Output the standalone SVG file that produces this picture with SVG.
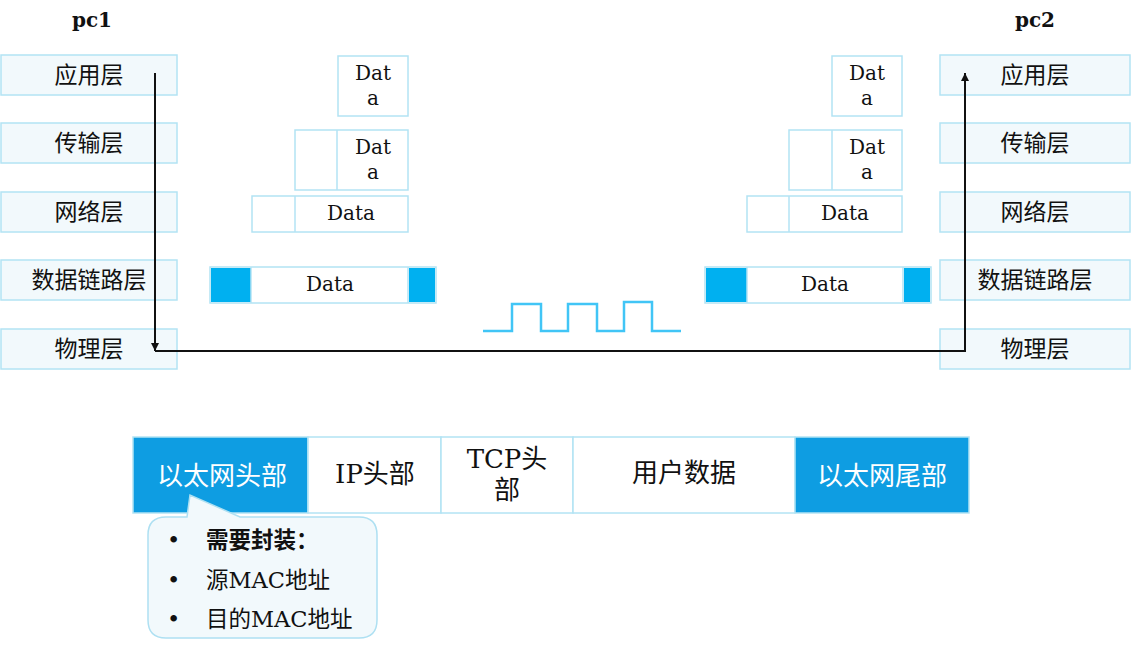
<svg xmlns="http://www.w3.org/2000/svg" width="1132" height="647" viewBox="0 0 1132 647">
<defs>
<style>
.layer{fill:#f2f9fc;stroke:#b3e3f4;stroke-width:1.5}
.pkt{fill:#ffffff;stroke:#b3e3f4;stroke-width:1.5}
.lt{font-family:"Noto Sans CJK SC","DejaVu Sans",sans-serif;font-size:23px;fill:#111;text-anchor:middle;dominant-baseline:central}
.dt{font-family:"DejaVu Serif","Noto Sans CJK SC",serif;font-size:20px;fill:#111;text-anchor:middle;dominant-baseline:central}
.pc{font-family:"DejaVu Serif",serif;font-size:20px;font-weight:bold;fill:#111;text-anchor:middle;dominant-baseline:central}
.bl{fill:#00b0f0}
.fr{font-family:"DejaVu Serif","Noto Sans CJK SC",serif;font-size:26px;fill:#111;text-anchor:middle;dominant-baseline:central}
.frw{font-family:"Noto Sans CJK SC",sans-serif;font-size:26px;fill:#fff;text-anchor:middle;dominant-baseline:central}
.bt{font-family:"DejaVu Serif","Noto Sans CJK SC",serif;font-size:22.5px;fill:#111;dominant-baseline:central}
.conn{fill:none;stroke:#111;stroke-width:2}
</style>
<marker id="ah" viewBox="0 0 10 10" refX="10" refY="5" markerWidth="4" markerHeight="4" orient="auto" markerUnits="strokeWidth">
<path d="M0,0 L10,5 L0,10 Z" fill="#111"/>
</marker>
</defs>
<rect width="1132" height="647" fill="#fff"/>

<text class="pc" x="92" y="20">pc1</text>
<text class="pc" x="1035" y="20">pc2</text>

<g id="pc1-app"><rect class="layer" x="1" y="55" width="176" height="40"/><text class="lt" x="89" y="73">应用层</text></g>
<g id="pc1-trans"><rect class="layer" x="1" y="123" width="176" height="40"/><text class="lt" x="89" y="141">传输层</text></g>
<g id="pc1-net"><rect class="layer" x="1" y="192" width="176" height="40"/><text class="lt" x="89" y="210">网络层</text></g>
<g id="pc1-link"><rect class="layer" x="1" y="260" width="176" height="40"/><text class="lt" x="89" y="278">数据链路层</text></g>
<g id="pc1-phy"><rect class="layer" x="1" y="329" width="176" height="40"/><text class="lt" x="89" y="347">物理层</text></g>

<g id="pc2-app"><rect class="layer" x="940" y="55" width="190" height="40"/><text class="lt" x="1035" y="73">应用层</text></g>
<g id="pc2-trans"><rect class="layer" x="940" y="123" width="190" height="40"/><text class="lt" x="1035" y="141">传输层</text></g>
<g id="pc2-net"><rect class="layer" x="940" y="192" width="190" height="40"/><text class="lt" x="1035" y="210">网络层</text></g>
<g id="pc2-link"><rect class="layer" x="940" y="260" width="190" height="40"/><text class="lt" x="1035" y="278">数据链路层</text></g>
<g id="pc2-phy"><rect class="layer" x="940" y="329" width="190" height="40"/><text class="lt" x="1035" y="347">物理层</text></g>

<g id="l-pkt1"><rect class="pkt" x="338" y="56" width="70" height="60"/><text class="dt" x="373" y="73">Dat</text><text class="dt" x="373" y="98">a</text></g>
<g id="l-pkt2"><rect class="pkt" x="295" y="130" width="113" height="60"/><line x1="337" y1="130" x2="337" y2="190" stroke="#b3e3f4" stroke-width="1.5"/><text class="dt" x="373" y="147">Dat</text><text class="dt" x="373" y="172">a</text></g>
<g id="l-pkt3"><rect class="pkt" x="252" y="196" width="156" height="36"/><line x1="295" y1="196" x2="295" y2="232" stroke="#b3e3f4" stroke-width="1.5"/><text class="dt" x="351" y="213">Data</text></g>
<g id="l-pkt4"><rect class="pkt" x="210" y="267" width="226" height="36"/><rect class="bl" x="211" y="268" width="40" height="34"/><rect class="bl" x="409" y="268" width="26" height="34"/><line x1="251" y1="267" x2="251" y2="303" stroke="#b3e3f4" stroke-width="1.5"/><line x1="408" y1="267" x2="408" y2="303" stroke="#b3e3f4" stroke-width="1.5"/><text class="dt" x="330" y="284">Data</text></g>

<g id="r-pkt1"><rect class="pkt" x="832" y="56" width="70" height="60"/><text class="dt" x="867" y="73">Dat</text><text class="dt" x="867" y="98">a</text></g>
<g id="r-pkt2"><rect class="pkt" x="789" y="130" width="113" height="60"/><line x1="832" y1="130" x2="832" y2="190" stroke="#b3e3f4" stroke-width="1.5"/><text class="dt" x="867" y="147">Dat</text><text class="dt" x="867" y="172">a</text></g>
<g id="r-pkt3"><rect class="pkt" x="747" y="196" width="155" height="36"/><line x1="789" y1="196" x2="789" y2="232" stroke="#b3e3f4" stroke-width="1.5"/><text class="dt" x="845" y="213">Data</text></g>
<g id="r-pkt4"><rect class="pkt" x="705" y="267" width="226" height="36"/><rect class="bl" x="706" y="268" width="41" height="34"/><rect class="bl" x="904" y="268" width="26" height="34"/><line x1="747" y1="267" x2="747" y2="303" stroke="#b3e3f4" stroke-width="1.5"/><line x1="903" y1="267" x2="903" y2="303" stroke="#b3e3f4" stroke-width="1.5"/><text class="dt" x="825" y="284">Data</text></g>

<g id="signal"><path d="M483,331 H512 V304 H541 V331 H568 V304 H597 V331 H624 V302 H652 V331 H681" fill="none" stroke="#41c5f6" stroke-width="2.5"/></g>

<g id="connectors">
<path class="conn" d="M155,73 V351" marker-end="url(#ah)"/>
<path class="conn" d="M155,351 H965 V73" marker-end="url(#ah)"/>
</g>

<g id="frame">
<rect x="133" y="437" width="175" height="76" fill="#0e9de2" stroke="#b3e3f4" stroke-width="1.5"/>
<text class="frw" x="222" y="473">以太网头部</text>
<rect x="308" y="437" width="133" height="76" fill="#fff" stroke="#b3e3f4" stroke-width="1.5"/>
<text class="fr" x="375" y="474">IP头部</text>
<rect x="441" y="437" width="132" height="76" fill="#fff" stroke="#b3e3f4" stroke-width="1.5"/>
<text class="fr" x="507" y="459">TCP头</text>
<text class="fr" x="507" y="490">部</text>
<rect x="573" y="437" width="222" height="76" fill="#fff" stroke="#b3e3f4" stroke-width="1.5"/>
<text class="fr" x="684" y="473">用户数据</text>
<rect x="795" y="437" width="174" height="76" fill="#0e9de2" stroke="#b3e3f4" stroke-width="1.5"/>
<text class="frw" x="882" y="473">以太网尾部</text>
</g>

<g id="callout">
<path d="M166,517 L187,517 L190,495 L240,517 L359,517 Q377,517 377,535 L377,620 Q377,638 359,638 L166,638 Q148,638 148,620 L148,535 Q148,517 166,517 Z" fill="#f2f9fc" stroke="#aee0f2" stroke-width="1.5"/>
<text class="bt" x="167" y="540">•</text>
<text class="bt" x="206" y="540" font-weight="bold">需要封装：</text>
<text class="bt" x="167" y="580">•</text>
<text class="bt" x="206" y="580">源MAC地址</text>
<text class="bt" x="167" y="619">•</text>
<text class="bt" x="206" y="619">目的MAC地址</text>
</g>
</svg>
